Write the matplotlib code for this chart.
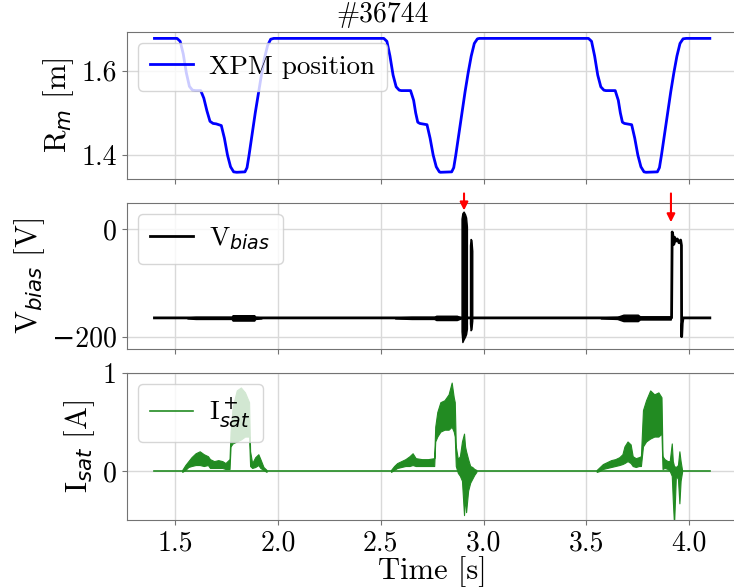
import matplotlib
matplotlib.use("Agg")
import matplotlib.pyplot as plt

plt.rcParams['font.family'] = ['cmr10', 'DejaVu Serif']
plt.rcParams['mathtext.fontset'] = 'dejavusans'
plt.rcParams['axes.unicode_minus'] = True

# XPM position (m) vs time (s)
t_xpm = [1.40, 1.51, 1.525, 1.54, 1.555, 1.57, 1.585, 1.60, 1.625, 1.64, 1.655, 1.67, 1.685, 1.70, 1.725,
         1.74, 1.755, 1.77, 1.785, 1.80, 1.84, 1.85, 1.86, 1.875, 1.89, 1.905, 1.92, 1.935, 1.95, 1.965, 1.98,
         2.515, 2.53, 2.545, 2.56, 2.575, 2.59, 2.60, 2.645, 2.66, 2.67, 2.68, 2.69, 2.725, 2.74, 2.755,
         2.77, 2.785, 2.79, 2.845, 2.855, 2.865, 2.88, 2.895, 2.91, 2.925, 2.94, 2.955, 2.97, 2.98,
         3.51, 3.525, 3.54, 3.555, 3.57, 3.585, 3.595, 3.64, 3.655, 3.665, 3.675, 3.685, 3.72, 3.735, 3.75,
         3.765, 3.78, 3.79, 3.845, 3.855, 3.865, 3.88, 3.895, 3.91, 3.925, 3.94, 3.955, 3.97, 3.985, 4.10]
r_xpm = [1.677, 1.677, 1.670, 1.640, 1.595, 1.563, 1.554, 1.553, 1.553, 1.535, 1.505, 1.480, 1.475, 1.474, 1.470,
         1.440, 1.400, 1.372, 1.360, 1.359, 1.360, 1.370, 1.400, 1.450, 1.500, 1.545, 1.590, 1.630, 1.660, 1.675, 1.677,
         1.677, 1.670, 1.635, 1.590, 1.562, 1.554, 1.553, 1.553, 1.530, 1.500, 1.478, 1.475, 1.472, 1.440, 1.400,
         1.372, 1.360, 1.359, 1.360, 1.370, 1.400, 1.450, 1.500, 1.550, 1.595, 1.635, 1.665, 1.676, 1.677,
         1.677, 1.670, 1.635, 1.590, 1.562, 1.554, 1.553, 1.553, 1.530, 1.500, 1.478, 1.475, 1.472, 1.440, 1.400,
         1.372, 1.360, 1.359, 1.360, 1.370, 1.400, 1.450, 1.500, 1.550, 1.595, 1.635, 1.665, 1.676, 1.677, 1.677]

# V_bias trace (V)
t_vb = [1.40, 3.914, 3.917, 3.921, 3.925, 3.929, 3.935, 3.942, 3.950, 3.958, 3.962, 3.963, 3.966, 3.970, 4.10]
v_vb = [-165, -165, -5, -12, -28, -15, -22, -18, -25, -20, -30, -200, -175, -165, -165]
# noisy bands on the -165 V baseline (lower / upper envelope)
t_vn1 = [1.56, 1.60, 1.70, 1.775, 1.78, 1.885, 1.89, 1.92]
lo_vn1 = [-166, -167, -167, -167, -170, -170, -167, -166]
hi_vn1 = [-164, -163, -163, -163, -160, -160, -163, -164]
t_vn2 = [2.57, 2.65, 2.76, 2.77, 2.87, 2.89]
lo_vn2 = [-166, -167, -167, -169, -169, -166]
hi_vn2 = [-164, -163, -163, -161, -161, -164]
t_vn3 = [3.57, 3.65, 3.68, 3.75, 3.76, 3.91]
lo_vn3 = [-166, -167, -171, -171, -168, -168]
hi_vn3 = [-164, -163, -159, -159, -162, -162]
# strong bursts
t_vb1 = [2.893, 2.897, 2.903, 2.910, 2.915, 2.919]
lo_vb1 = [-190, -210, -205, -200, -195, -185]
hi_vb1 = [20, 30, 33, 28, 22, 5]
t_vb2 = [2.934, 2.937, 2.941, 2.945]
lo_vb2 = [-175, -188, -186, -170]
hi_vb2 = [-30, -18, -20, -40]

# I_sat envelopes (A)
t_is1 = [1.535, 1.55, 1.565, 1.58, 1.60, 1.62, 1.64, 1.66, 1.67, 1.69, 1.71, 1.73, 1.745, 1.765, 1.77,
         1.78, 1.80, 1.82, 1.84, 1.86, 1.865, 1.875, 1.89, 1.905, 1.915, 1.93, 1.945]
hi_is1 = [0.01, 0.06, 0.10, 0.14, 0.18, 0.20, 0.17, 0.15, 0.12, 0.10, 0.11, 0.10, 0.08, 0.12, 0.40,
          0.65, 0.82, 0.85, 0.80, 0.70, 0.20, 0.08, 0.14, 0.17, 0.12, 0.04, 0.01]
lo_is1 = [-0.01, 0.01, 0.04, 0.05, 0.06, 0.06, 0.05, 0.06, 0.03, 0.03, 0.03, 0.03, 0.02, 0.02, 0.25,
          0.28, 0.30, 0.32, 0.35, 0.35, 0.05, 0.03, 0.04, 0.06, 0.03, 0.01, -0.01]
t_is2 = [2.55, 2.565, 2.58, 2.60, 2.62, 2.64, 2.655, 2.67, 2.70, 2.73, 2.76, 2.765, 2.775, 2.79, 2.81,
         2.83, 2.845, 2.855, 2.86, 2.865, 2.875, 2.885, 2.895, 2.905, 2.91, 2.915, 2.925, 2.935, 2.945,
         2.955, 2.965]
hi_is2 = [0.01, 0.05, 0.08, 0.10, 0.12, 0.15, 0.18, 0.13, 0.12, 0.12, 0.13, 0.45, 0.60, 0.70, 0.72,
          0.78, 0.90, 0.75, 0.70, 0.25, 0.12, 0.15, 0.30, 0.38, 0.25, 0.20, 0.12, 0.05, 0.04, 0.02, 0.01]
lo_is2 = [-0.01, 0.01, 0.03, 0.04, 0.05, 0.05, 0.06, 0.05, 0.05, 0.05, 0.05, 0.30, 0.35, 0.40, 0.42,
          0.42, 0.45, 0.40, 0.35, 0.05, -0.02, -0.05, -0.10, -0.45, -0.25, -0.42, -0.20, -0.12, -0.08,
          -0.04, -0.01]
t_is3 = [3.55, 3.565, 3.58, 3.60, 3.62, 3.64, 3.66, 3.675, 3.685, 3.70, 3.715, 3.725, 3.74, 3.755, 3.765,
         3.775, 3.79, 3.81, 3.83, 3.85, 3.865, 3.87, 3.88, 3.895, 3.905, 3.915, 3.92, 3.926, 3.935, 3.945,
         3.952, 3.958, 3.965]
hi_is3 = [0.01, 0.04, 0.07, 0.09, 0.11, 0.12, 0.14, 0.17, 0.25, 0.30, 0.27, 0.15, 0.13, 0.14, 0.15,
          0.62, 0.72, 0.82, 0.78, 0.80, 0.75, 0.15, 0.12, 0.10, 0.10, 0.28, 0.10, 0.05, 0.04, 0.06,
          0.20, 0.10, 0.01]
lo_is3 = [-0.01, 0.00, 0.02, 0.03, 0.04, 0.05, 0.06, 0.07, 0.08, 0.10, 0.08, 0.05, 0.04, 0.05, 0.05,
          0.25, 0.30, 0.33, 0.35, 0.35, 0.38, 0.02, 0.03, 0.02, 0.00, -0.05, -0.30, -0.55, -0.05, -0.08,
          -0.33, -0.10, -0.01]
t_is0 = [1.40, 4.10]
i_is0 = [0.0, 0.0]

arrow_t = [2.905, 3.911]
arrow_tip = [30, 8]

green = 'forestgreen'

fig = plt.figure(figsize=(7.34, 5.87), dpi=100)
ax1 = fig.add_axes([0.1726, 0.6951, 0.8323, 0.2509])
ax2 = fig.add_axes([0.1726, 0.4054, 0.8323, 0.2493], sharex=ax1)
ax3 = fig.add_axes([0.1726, 0.1141, 0.8323, 0.2509], sharex=ax1)

ax1.plot(t_xpm, r_xpm, color='blue', lw=2, label='XPM position')
ax1.set_ylabel('R$_m$ [m]', fontsize=22)
fig.text(383 / 734, 0.952, '#36744', fontsize=20, ha='center', va='bottom')

ax2.plot(t_vb, v_vb, color='black', lw=2, label='V$_{bias}$')
for tt, lo, hi in [(t_vn1, lo_vn1, hi_vn1), (t_vn2, lo_vn2, hi_vn2), (t_vn3, lo_vn3, hi_vn3),
                   (t_vb1, lo_vb1, hi_vb1), (t_vb2, lo_vb2, hi_vb2)]:
    ax2.fill_between(tt, lo, hi, color='black', lw=1)
for ta, tip in zip(arrow_t, arrow_tip):
    ax2.annotate('', xy=(ta, tip), xytext=(ta, 72), annotation_clip=False,
                 arrowprops=dict(arrowstyle='-|>', color='red', lw=1.5, mutation_scale=12))
ax2.set_ylabel('V$_{bias}$ [V]', fontsize=22)
ax2.set_ylim(-223, 49.6)

ax3.plot(t_is0, i_is0, color=green, lw=1.2, label='I$^+_{sat}$')
for tt, lo, hi in [(t_is1, lo_is1, hi_is1), (t_is2, lo_is2, hi_is2), (t_is3, lo_is3, hi_is3)]:
    ax3.fill_between(tt, lo, hi, color=green, lw=0.8)
ax3.set_ylabel('I$_{sat}$ [A]', fontsize=22)
ax3.set_ylim(-0.5, 1.0)
ax3.set_xlabel('Time [s]', fontsize=22, labelpad=0)
ax3.set_xlim(1.265, 4.235)
ax3.set_xticks([1.5, 2.0, 2.5, 3.0, 3.5, 4.0])

for ax in (ax1, ax2, ax3):
    ax.grid(True, color='0.85', lw=1)
    ax.set_axisbelow(True)
    for s in ax.spines.values():
        s.set_color('0.45')
    ax.tick_params(labelsize=20, color='0.45')
    ax.legend(loc='upper left', fontsize=19.5, handlelength=1.6, handletextpad=0.6,
              borderpad=0.45, borderaxespad=0.4)
for ax in (ax1, ax2):
    ax.tick_params(labelbottom=False)

fig.savefig('out.png', dpi=100)
